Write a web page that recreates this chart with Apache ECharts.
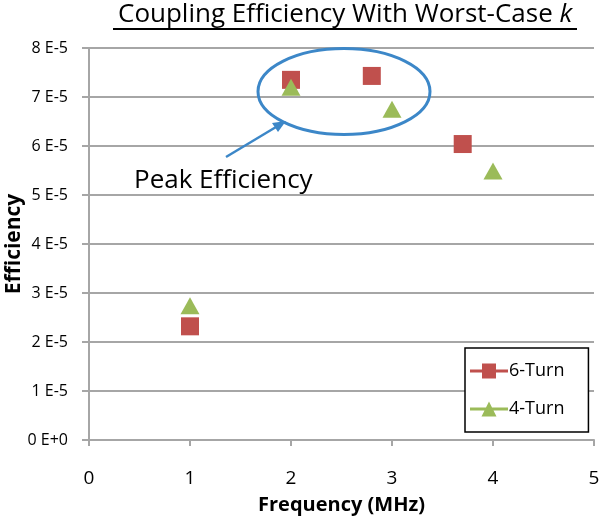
<!DOCTYPE html>
<html lang="en">
<head>
    <meta charset="UTF-8">
    <title>Coupling Efficiency</title>
    <style>
        html,body{margin:0;padding:0;background:#fff;}
        #main{width:600px;height:516px;}
    </style>
    <script type="text/javascript" src="https://cdn.jsdelivr.net/npm/echarts@6/dist/echarts.min.js"></script>
</head>
<body>
<div id="main"></div>
</body>
<script>
    // data (frequency in MHz, efficiency)
    let freq6=[1,2,2.8,3.7];
    let eff6=[2.32e-5,7.35e-5,7.43e-5,6.04e-5];
    let freq4=[1,2,3,4];
    let eff4=[2.74e-5,7.2e-5,6.75e-5,5.49e-5];
    let seriesNames=['6-Turn','4-Turn'];
    let xTicks=[0,1,2,3,4,5];

    let font='Open Sans';
    let chart=echarts.init(document.getElementById('main'));

    let pair=(xs,ys)=>xs.map((x,i)=>[x,ys[i]]);

    let option={
        animation:false,
        textStyle:{fontFamily:font},
        title:{
            text:'{n|Coupling Efficiency With Worst-Case }{i|k}',
            left:113,
            top:-3,
            textStyle:{
                rich:{
                    n:{fontFamily:font,fontSize:26,fontWeight:'normal',color:'#000'},
                    i:{fontFamily:font,fontSize:26,fontWeight:'normal',color:'#000',fontStyle:'italic'}
                }
            }
        },
        grid:{left:89,right:6,top:48,bottom:76,outerBoundsMode:'none'},
        xAxis:{
            type:'value',
            min:xTicks[0],
            max:xTicks[xTicks.length-1],
            interval:1,
            name:'Frequency (MHz)',
            nameLocation:'middle',
            nameGap:55,
            nameMoveOverlap:false,
            nameTextStyle:{fontFamily:font,fontSize:20,fontWeight:'bold',color:'#000'},
            axisLine:{lineStyle:{color:'#a6a6a6',width:2}},
            axisTick:{show:true,length:6,lineStyle:{color:'#a6a6a6',width:2}},
            axisLabel:{fontFamily:font,fontSize:19,color:'#000',margin:29},
            splitLine:{show:false}
        },
        yAxis:{
            type:'value',
            min:0,
            max:8e-5,
            interval:1e-5,
            name:'Efficiency',
            nameLocation:'middle',
            nameGap:64,
            nameMoveOverlap:false,
            nameTextStyle:{fontFamily:font,fontSize:21,fontWeight:'bold',color:'#000'},
            axisLine:{show:true,lineStyle:{color:'#a6a6a6',width:2}},
            axisTick:{show:true,length:7,lineStyle:{color:'#a6a6a6',width:2}},
            axisLabel:{
                fontFamily:font,fontSize:16,color:'#000',margin:21,
                formatter:v=>{
                    let n=Math.round(v*1e5);
                    return n===0?'0 E+0':n+' E-5';
                }
            },
            splitLine:{show:true,lineStyle:{color:'#a6a6a6',width:2}}
        },
        legend:{
            orient:'vertical',
            left:465,
            top:348,
            padding:[14,24,14,5],
            itemGap:20,
            itemWidth:38,
            itemHeight:15,
            backgroundColor:'#fff',
            borderColor:'#000',
            borderWidth:1.5,
            textStyle:{fontFamily:font,fontSize:18,color:'#000',padding:[0,0,0,-4]},
            data:[
                {name:seriesNames[0],icon:'path://M0,6H38V9H0Z M12,0H26V15H12Z'},
                {name:seriesNames[1],icon:'path://M0,6H38V9H0Z M19,0L26.5,15H11.5Z'}
            ]
        },
        series:[
            {
                type:'scatter',
                name:seriesNames[0],
                symbol:'rect',
                symbolSize:18,
                itemStyle:{color:'#c0504d',opacity:1},
                data:pair(freq6,eff6),
                z:2
            },
            {
                type:'scatter',
                name:seriesNames[1],
                symbol:'triangle',
                symbolSize:[19,17],
                itemStyle:{color:'#9bbb59',opacity:1},
                data:pair(freq4,eff4),
                z:3
            }
        ],
        graphic:[
            {
                type:'line',
                shape:{x1:113,y1:29,x2:577,y2:29},
                style:{stroke:'#000',lineWidth:2}
            },
            {
                type:'ellipse',
                shape:{cx:344,cy:91.5,rx:86,ry:43},
                style:{fill:null,stroke:'#3c87c8',lineWidth:3},
                z:10
            },
            {
                type:'line',
                shape:{x1:226,y1:157,x2:281,y2:124},
                style:{stroke:'#3c87c8',lineWidth:2.5},
                z:10
            },
            {
                type:'polygon',
                shape:{points:[[286,121],[272,123],[278,132]]},
                style:{fill:'#3c87c8'},
                z:10
            },
            {
                type:'text',
                left:134,
                top:168,
                style:{text:'Peak Efficiency',font:'26px "'+font+'"',fill:'#000'},
                z:10
            }
        ]
    };
    chart.setOption(option);
</script>
</html>
